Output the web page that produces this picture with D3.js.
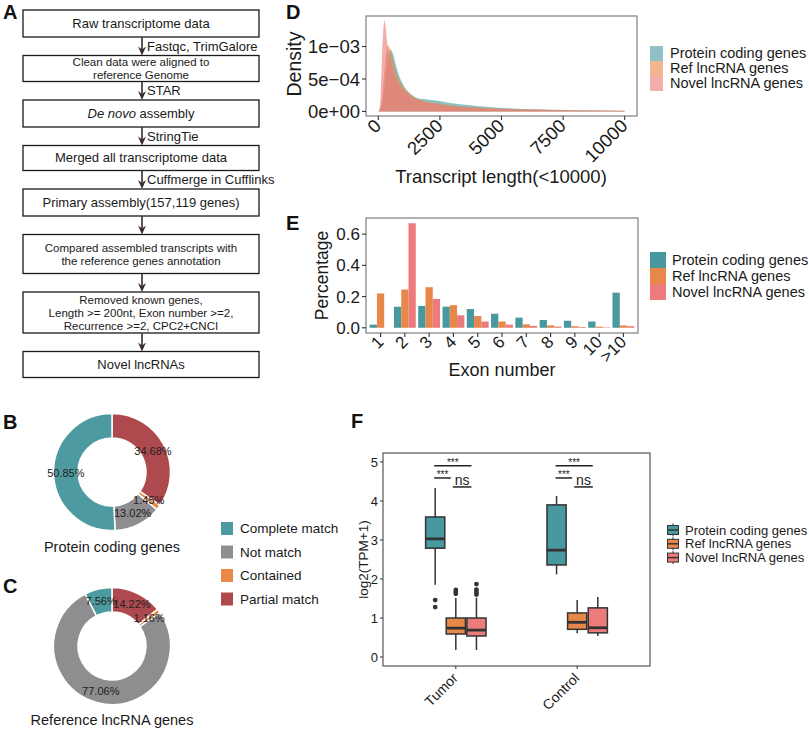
<!DOCTYPE html>
<html>
<head>
<meta charset="utf-8">
<title>lncRNA identification figure</title>
<script src="https://cdn.jsdelivr.net/npm/d3@7"></script>
<style>
  body { margin: 0; background: #fff; }
  svg { font-family: "Liberation Sans", Arial, Helvetica, sans-serif; }
  .plabel { font-weight: bold; font-size: 20px; fill: #111; }
</style>
</head>
<body>
<svg id="fig" width="809" height="730"></svg>
<script>
// ---------- data ----------
var flowSteps = [
  ['Raw transcriptome data'],
  ['Clean data were aligned to', 'reference Genome'],
  ['*De novo* assembly'],
  ['Merged all transcriptome data'],
  ['Primary assembly(157,119 genes)'],
  ['Compared assembled transcripts with', 'the reference genes annotation'],
  ['Removed known genes,', 'Length >= 200nt, Exon number >=2,', 'Recurrence >=2, CPC2+CNCI'],
  ['Novel lncRNAs']
];
var flowTools = ['Fastqc, TrimGalore', 'STAR', 'StringTie', 'Cuffmerge in Cufflinks', '', '', ''];

var matchTypes = ['Complete match', 'Not match', 'Contained', 'Partial match'];
var proteinMatch = [50.85, 13.02, 1.45, 34.68];
var refMatch = [7.56, 77.06, 1.16, 14.22];

var geneTypes = ['Protein coding genes', 'Ref lncRNA genes', 'Novel lncRNA genes'];

// transcript length density (x 1e-3)
var lengthGrid = [0, 50, 100, 150, 200, 250, 300, 350, 400, 500, 600, 700, 800, 1000, 1200, 1500, 1800, 2000, 2500, 3000, 4000, 5000, 6000, 7500, 9000, 10000];
var proteinDens = [0, 0.01, 0.04, 0.1, 0.22, 0.38, 0.55, 0.72, 0.85, 0.95, 0.88, 0.74, 0.6, 0.42, 0.31, 0.22, 0.19, 0.185, 0.16, 0.125, 0.085, 0.055, 0.038, 0.022, 0.014, 0.01];
var refDens = [0, 0.02, 0.08, 0.2, 0.4, 0.65, 0.85, 0.97, 1.02, 0.93, 0.78, 0.64, 0.53, 0.39, 0.3, 0.21, 0.17, 0.15, 0.12, 0.09, 0.06, 0.04, 0.03, 0.02, 0.013, 0.01];
var novelDens = [0, 0.05, 0.3, 0.85, 1.25, 1.41, 1.3, 1.1, 0.95, 0.78, 0.62, 0.52, 0.44, 0.33, 0.26, 0.19, 0.15, 0.13, 0.1, 0.075, 0.05, 0.035, 0.025, 0.015, 0.01, 0.008];
var densTicks = [0, 5e-4, 1e-3];
var densTickLabels = ['0e+00', '5e\u221204', '1e\u221203'];
var lengthTicks = [0, 2500, 5000, 7500, 10000];

// exon number percentage
var exonCats = ['1', '2', '3', '4', '5', '6', '7', '8', '9', '10', '>10'];
var proteinExon = [0.02, 0.135, 0.14, 0.135, 0.12, 0.09, 0.065, 0.05, 0.045, 0.04, 0.225];
var refExon = [0.22, 0.245, 0.26, 0.145, 0.075, 0.04, 0.022, 0.015, 0.01, 0.007, 0.015];
var novelExon = [0, 0.67, 0.185, 0.08, 0.04, 0.02, 0.012, 0.008, 0.005, 0.003, 0.01];
var exonTicks = [0, 0.2, 0.4, 0.6];

// expression boxplots: [lower whisker, q1, median, q3, upper whisker]
var conditions = ['Tumor', 'Control'];
var tumorBoxes = [[1.85, 2.79, 3.03, 3.59, 4.33], [0.18, 0.59, 0.74, 1.0, 1.51], [0.18, 0.54, 0.69, 1.0, 1.52]];
var controlBoxes = [[2.12, 2.36, 2.74, 3.9, 4.13], [0.61, 0.71, 0.89, 1.13, 1.46], [0.54, 0.62, 0.75, 1.26, 1.54]];
var tumorOutliers = [[1.46, 1.28], [1.62, 1.67, 1.72], [1.6, 1.67, 1.73, 1.87]];
var controlOutliers = [[], [], []];
var sigPairs = [[0, 2], [0, 1], [1, 2]];
var sigLabels = ['***', '***', 'ns'];
var sigLevels = [4.9, 4.59, 4.36];
var tpmTicks = [0, 1, 2, 3, 4, 5];

// ---------- colours ----------
var teal = '#48999f', orange = '#e8874a', pink = '#ee7b7b';
var matchColors = ['#4d9ba1', '#8f8d8f', '#e8894a', '#ae4a4e'];
var geneColors = [teal, orange, pink];

var svg = d3.select('#fig');

// ---------- A: flowchart ----------
var flowX = 23, flowW = 236, flowGap = 18.5;
var flowHeights = [27, 26, 27, 25, 27, 39, 41, 26];
var tops = [], yy = 10;
flowHeights.forEach(function (h) { tops.push(yy); yy += h + flowGap; });
var midX = flowX + flowW / 2;

svg.append('text').attr('class', 'plabel').attr('x', 3).attr('y', 19).text('A');

var gA = svg.append('g');
flowSteps.forEach(function (lines, i) {
  gA.append('rect').attr('x', flowX).attr('y', tops[i]).attr('width', flowW).attr('height', flowHeights[i])
    .attr('fill', 'none').attr('stroke', '#1a1a1a').attr('stroke-width', 1.3);
  var cy = tops[i] + flowHeights[i] / 2;
  var fs = lines.length > 1 ? 11.5 : 13;
  lines.forEach(function (ln, j) {
    var t = gA.append('text').attr('x', midX).attr('y', cy + (j - (lines.length - 1) / 2) * 13 + 4.2)
      .attr('text-anchor', 'middle').style('font-size', fs + 'px').attr('fill', '#1a1a1a');
    ln.split('*').forEach(function (part, k) {
      if (part) t.append('tspan').style('font-style', k % 2 ? 'italic' : 'normal').text(part);
    });
  });
  if (i < flowSteps.length - 1) {
    var y0 = tops[i] + flowHeights[i], y1 = tops[i + 1];
    var ax = 142;
    gA.append('line').attr('x1', ax).attr('x2', ax).attr('y1', y0).attr('y2', y1 - 3)
      .attr('stroke', '#3a2d2d').attr('stroke-width', 1.6);
    gA.append('path').attr('d', 'M' + (ax - 4) + ',' + (y1 - 9) + 'L' + ax + ',' + (y1 - 6) + 'L' + (ax + 4) + ',' + (y1 - 9) + 'L' + ax + ',' + y1 + 'Z')
      .attr('fill', '#3a2d2d');
    if (flowTools[i]) {
      gA.append('text').attr('x', 147).attr('y', (y0 + y1) / 2 + 4.5).style('font-size', '13px')
        .attr('fill', '#1a1a1a').text(flowTools[i]);
    }
  }
});

// ---------- B, C: donuts ----------
function donut(cx, cy, values, title, titleY) {
  var g = svg.append('g').attr('transform', 'translate(' + cx + ',' + cy + ')');
  var slices = matchTypes.map(function (m, i) { return { name: m, v: values[i], c: matchColors[i] }; }).reverse();
  var pie = d3.pie().sort(null).value(function (d) { return d.v; });
  var arc = d3.arc().innerRadius(34).outerRadius(58.5);
  var arcs = pie(slices);
  g.selectAll('path').data(arcs).join('path')
    .attr('d', arc).attr('fill', function (d) { return d.data.c; })
    .attr('stroke', '#fff').attr('stroke-width', 1.5);
  g.selectAll('text.pct').data(arcs).join('text').attr('class', 'pct')
    .attr('x', function (d) { return arc.centroid(d)[0]; })
    .attr('y', function (d) { return arc.centroid(d)[1] + 4; })
    .attr('text-anchor', 'middle').style('font-size', '11px').attr('fill', '#222')
    .text(function (d) { return d.data.v.toFixed(2) + '%'; });
  svg.append('text').attr('x', cx).attr('y', titleY).attr('text-anchor', 'middle')
    .style('font-size', '14.5px').attr('fill', '#1a1a1a').text(title);
}
svg.append('text').attr('class', 'plabel').attr('x', 3).attr('y', 429).text('B');
donut(112, 472, proteinMatch, 'Protein coding genes', 552);
svg.append('text').attr('class', 'plabel').attr('x', 3).attr('y', 593).text('C');
donut(112, 646, refMatch, 'Reference lncRNA genes', 725);

var gLeg = svg.append('g');
matchTypes.forEach(function (m, i) {
  var ky = 522 + i * 23.5;
  gLeg.append('rect').attr('x', 221).attr('y', ky).attr('width', 12).attr('height', 13).attr('fill', matchColors[i]);
  gLeg.append('text').attr('x', 240).attr('y', ky + 11).style('font-size', '13.5px').attr('fill', '#1a1a1a').text(m);
});

// ---------- helpers ----------
function yAxis(g, scale, ticks, labels, x0, fs) {
  ticks.forEach(function (t, i) {
    var y = scale(t);
    g.append('line').attr('x1', x0 - 4).attr('x2', x0).attr('y1', y).attr('y2', y).attr('stroke', '#333').attr('stroke-width', 1.1);
    g.append('text').attr('x', x0 - 6).attr('y', y + fs * 0.36).attr('text-anchor', 'end')
      .style('font-size', fs + 'px').attr('fill', '#1a1a1a').text(labels[i]);
  });
}
function xAxisRot(g, positions, labels, y0, fs, dx, dy) {
  positions.forEach(function (x, i) {
    g.append('line').attr('x1', x).attr('x2', x).attr('y1', y0).attr('y2', y0 + 4).attr('stroke', '#333').attr('stroke-width', 1.1);
    g.append('text').attr('transform', 'translate(' + (x + dx) + ',' + (y0 + dy) + ') rotate(-45)')
      .attr('text-anchor', 'end').style('font-size', fs + 'px').attr('fill', '#1a1a1a').text(labels[i]);
  });
}

// ---------- D: density ----------
var gD = svg.append('g');
svg.append('text').attr('class', 'plabel').attr('x', 286).attr('y', 19).text('D');
var xD = d3.scaleLinear().domain([-500, 10500]).range([366, 637]);
var yD = d3.scaleLinear().domain([-0.07e-3, 1.47e-3]).range([116, 16]);
var dens = [proteinDens, refDens, novelDens];
var area = d3.area().curve(d3.curveMonotoneX)
  .x(function (d) { return xD(d[0]); }).y0(yD(0)).y1(function (d) { return yD(d[1] * 1e-3); });
dens.forEach(function (s, k) {
  gD.append('path').datum(lengthGrid.map(function (L, i) { return [L, s[i]]; }))
    .attr('d', area).attr('fill', geneColors[k]).attr('fill-opacity', 0.62);
});
gD.append('rect').attr('x', 366).attr('y', 16).attr('width', 271).attr('height', 100)
  .attr('fill', 'none').attr('stroke', '#7f7f7f').attr('stroke-width', 1.2);
yAxis(gD, yD, densTicks, densTickLabels, 366, 18.5);
xAxisRot(gD, lengthTicks.map(xD), lengthTicks.map(String), 116, 18.5, 4, 11);
gD.append('text').attr('transform', 'translate(301,64) rotate(-90)').attr('text-anchor', 'middle')
  .style('font-size', '19.5px').attr('fill', '#1a1a1a').text('Density');
gD.append('text').attr('x', 501).attr('y', 183).attr('text-anchor', 'middle')
  .style('font-size', '18.5px').attr('fill', '#1a1a1a').text('Transcript length(<10000)');
geneTypes.forEach(function (t, i) {
  var ky = 46 + i * 15;
  gD.append('rect').attr('x', 650).attr('y', ky).attr('width', 13).attr('height', 15)
    .attr('fill', geneColors[i]).attr('fill-opacity', 0.62);
  gD.append('text').attr('x', 670).attr('y', ky + 12).style('font-size', '14.5px').attr('fill', '#1a1a1a').text(t);
});

// ---------- E: exon number bars ----------
var gE = svg.append('g');
svg.append('text').attr('class', 'plabel').attr('x', 286).attr('y', 230).text('E');
var xE = d3.scaleBand().domain(exonCats).range([366, 638]).paddingInner(0.1).paddingOuter(0.15);
var xSub = d3.scaleBand().domain([0, 1, 2]).range([0, xE.bandwidth()]);
var yE = d3.scaleLinear().domain([-0.0335, 0.7035]).range([333, 218]);
var exonSeries = [proteinExon, refExon, novelExon];
exonSeries.forEach(function (s, k) {
  gE.selectAll('rect.s' + k).data(exonCats).join('rect').attr('class', 's' + k)
    .attr('x', function (c) { return xE(c) + xSub(k); })
    .attr('width', xSub.bandwidth())
    .attr('y', function (c, i) { return yE(s[i]); })
    .attr('height', function (c, i) { return yE(0) - yE(s[i]); })
    .attr('fill', geneColors[k]);
});
gE.append('rect').attr('x', 366).attr('y', 218).attr('width', 272).attr('height', 115)
  .attr('fill', 'none').attr('stroke', '#7f7f7f').attr('stroke-width', 1.2);
yAxis(gE, yE, exonTicks, exonTicks.map(function (v) { return v.toFixed(1); }), 366, 17);
xAxisRot(gE, exonCats.map(function (c) { return xE(c) + xE.bandwidth() / 2; }), exonCats, 333, 17, 4, 10);
gE.append('text').attr('transform', 'translate(328,275.5) rotate(-90)').attr('text-anchor', 'middle')
  .style('font-size', '17.5px').attr('fill', '#1a1a1a').text('Percentage');
gE.append('text').attr('x', 502).attr('y', 376).attr('text-anchor', 'middle')
  .style('font-size', '18px').attr('fill', '#1a1a1a').text('Exon number');
geneTypes.forEach(function (t, i) {
  var ky = 252 + i * 16;
  gE.append('rect').attr('x', 650).attr('y', ky).attr('width', 16).attr('height', 16).attr('fill', geneColors[i]);
  gE.append('text').attr('x', 672).attr('y', ky + 13).style('font-size', '14.5px').attr('fill', '#1a1a1a').text(t);
});

// ---------- F: expression boxplots ----------
var gF = svg.append('g');
svg.append('text').attr('class', 'plabel').attr('x', 351).attr('y', 428).text('F');
var xF = d3.scaleBand().domain(conditions).range([383, 650]).paddingInner(0).paddingOuter(0.1);
var yF = d3.scaleLinear().domain([-0.23, 5.23]).range([666, 453]);
var dodge = xF.bandwidth() * 0.17, boxW = xF.bandwidth() * 0.158;
function cxF(cond, k) { return xF(cond) + xF.bandwidth() / 2 + (k - 1) * dodge; }
var boxSets = [tumorBoxes, controlBoxes], outSets = [tumorOutliers, controlOutliers];
conditions.forEach(function (cond, ci) {
  boxSets[ci].forEach(function (b, k) {
    var cx = cxF(cond, k);
    gF.append('line').attr('x1', cx).attr('x2', cx).attr('y1', yF(b[0])).attr('y2', yF(b[1])).attr('stroke', '#333').attr('stroke-width', 1.5);
    gF.append('line').attr('x1', cx).attr('x2', cx).attr('y1', yF(b[3])).attr('y2', yF(b[4])).attr('stroke', '#333').attr('stroke-width', 1.5);
    gF.append('rect').attr('x', cx - boxW / 2).attr('y', yF(b[3])).attr('width', boxW).attr('height', yF(b[1]) - yF(b[3]))
      .attr('fill', geneColors[k]).attr('stroke', '#333').attr('stroke-width', 1.5);
    gF.append('line').attr('x1', cx - boxW / 2).attr('x2', cx + boxW / 2).attr('y1', yF(b[2])).attr('y2', yF(b[2]))
      .attr('stroke', '#333').attr('stroke-width', 2.8);
    gF.selectAll(null).data(outSets[ci][k]).join('circle')
      .attr('cx', cx).attr('cy', function (v) { return yF(v); }).attr('r', 2.4).attr('fill', '#333');
  });
  sigPairs.forEach(function (p, s) {
    var x1 = cxF(cond, p[0]) - 1, x2 = cxF(cond, p[1]) - 5;
    if (p[0] === 1) x1 = cxF(cond, 1) - 3;
    var y = yF(sigLevels[s]);
    gF.append('line').attr('x1', x1).attr('x2', x2).attr('y1', y).attr('y2', y).attr('stroke', '#222').attr('stroke-width', 1.5);
    gF.append('text').attr('x', (x1 + x2) / 2).attr('y', y - (sigLabels[s] === 'ns' ? 2 : 0))
      .attr('text-anchor', 'middle').style('font-size', sigLabels[s] === 'ns' ? '14px' : '10px')
      .attr('fill', '#222').text(sigLabels[s]);
  });
});
gF.append('rect').attr('x', 383).attr('y', 453).attr('width', 267).attr('height', 213)
  .attr('fill', 'none').attr('stroke', '#555').attr('stroke-width', 1.2);
tpmTicks.forEach(function (t) {
  var y = yF(t);
  gF.append('line').attr('x1', 380).attr('x2', 383).attr('y1', y).attr('y2', y).attr('stroke', '#333');
  gF.append('text').attr('x', 378).attr('y', y + 4.7).attr('text-anchor', 'end').style('font-size', '13px').attr('fill', '#1a1a1a').text(t);
});
conditions.forEach(function (c) {
  var x = xF(c) + xF.bandwidth() / 2;
  gF.append('line').attr('x1', x).attr('x2', x).attr('y1', 666).attr('y2', 669).attr('stroke', '#333');
  gF.append('text').attr('transform', 'translate(' + (x + 3) + ',679) rotate(-45)').attr('text-anchor', 'end')
    .style('font-size', '14px').attr('fill', '#1a1a1a').text(c);
});
gF.append('text').attr('transform', 'translate(368,559.5) rotate(-90)').attr('text-anchor', 'middle')
  .style('font-size', '13.5px').attr('fill', '#1a1a1a').text('log2(TPM+1)');
geneTypes.forEach(function (t, i) {
  var cy = 530 + i * 13.8, kx = 673;
  gF.append('line').attr('x1', kx).attr('x2', kx).attr('y1', cy - 6.5).attr('y2', cy + 6.5).attr('stroke', '#333');
  gF.append('rect').attr('x', kx - 5.5).attr('y', cy - 4.5).attr('width', 11).attr('height', 9)
    .attr('fill', geneColors[i]).attr('stroke', '#333').attr('stroke-width', 1);
  gF.append('line').attr('x1', kx - 5.5).attr('x2', kx + 5.5).attr('y1', cy).attr('y2', cy).attr('stroke', '#333').attr('stroke-width', 1.5);
  gF.append('text').attr('x', 685).attr('y', cy + 4.5).style('font-size', '13px').attr('fill', '#1a1a1a').text(t);
});
</script>
</body>
</html>
